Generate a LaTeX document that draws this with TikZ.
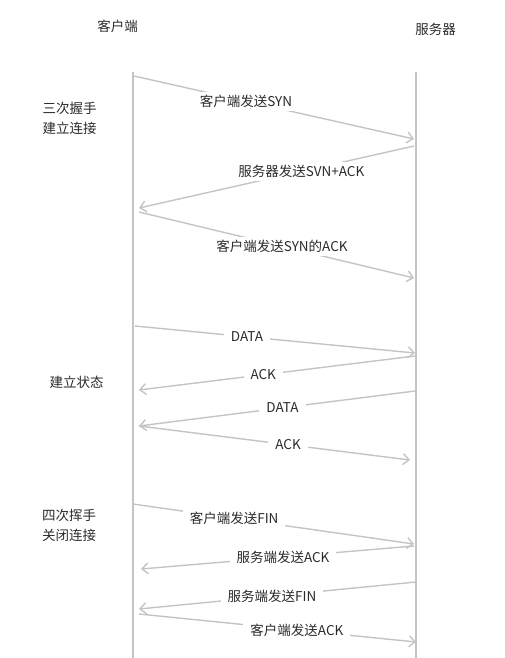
\documentclass[tikz,border=0pt]{standalone}
\usepackage{fontspec}
\setmainfont{Noto Sans CJK SC}
\usetikzlibrary{arrows.meta}
\definecolor{linegray}{HTML}{C4C4C4}
\definecolor{textgray}{HTML}{2B2B2B}
\begin{document}
\begin{tikzpicture}[x=1pt, y=-1pt,
    every node/.style={text=textgray, font=\fontsize{13.5}{20}\selectfont, inner sep=1pt},
    lifeline/.style={draw=linegray, line width=1.6pt},
    msg/.style={draw=linegray, line width=1.4pt, -{Straight Barb[length=6pt, width=11pt]}},
    lbl/.style={fill=white, inner xsep=7pt, inner ysep=3pt}]
        \useasboundingbox (0,0) rectangle (504,658);

        % Uczestnicy
        \node (client) at (117.5,26) {客户端};
        \node (server) at (435.5,29) {服务器};

        % Linie życia
        \coordinate (c0) at (133,72);
        \coordinate (c1) at (133,658);
        \coordinate (s0) at (416,72);
        \coordinate (s1) at (416,658);
        \draw[lifeline] (c0) -- (c1);
        \draw[lifeline] (s0) -- (s1);

        % Etapy
        \node[align=center] (hs3) at (69.5,118) {三次握手\\建立连接};
        \node (est) at (76.5,382) {建立状态};
        \node[align=center] (hs4) at (69,525) {四次挥手\\关闭连接};

        % Punkty wiadomości
        \coordinate (a1) at (134,76);  \coordinate (b1) at (414,139);
        \coordinate (a2) at (414,146); \coordinate (b2) at (139,208);
        \coordinate (a3) at (139,212); \coordinate (b3) at (414,278);
        \coordinate (a4) at (135,326); \coordinate (b4) at (415,353);
        \coordinate (a5) at (415,356); \coordinate (b5) at (139,390);
        \coordinate (a6) at (415,391); \coordinate (b6) at (139,426);
        \coordinate (a7) at (139,426); \coordinate (b7) at (410,460);
        \coordinate (a8) at (133,504); \coordinate (b8) at (414,544);
        \coordinate (a9) at (414,546); \coordinate (b9) at (141,569);
        \coordinate (a10) at (416,582); \coordinate (b10) at (139,609);
        \coordinate (a11) at (139,614); \coordinate (b11) at (416,642);

        % Wiadomości
        \draw[msg] (a1) -- node[lbl, pos=0.40] {客户端发送SYN} (b1);
        \draw[msg] (a2) -- node[lbl, pos=0.41] {服务器发送SVN+ACK} (b2);
        \draw[msg] (a3) -- node[lbl, pos=0.52] {客户端发送SYN的ACK} (b3);
        \draw[msg] (a4) -- node[lbl, pos=0.40] {DATA} (b4);
        \draw[msg] (a5) -- node[lbl, pos=0.55] {ACK} (b5);
        \draw[msg] (a6) -- node[lbl, pos=0.48] {DATA} (b6);
        \draw[msg] (a7) -- node[lbl, pos=0.55] {ACK} (b7);
        \draw[msg] (a8) -- node[lbl, pos=0.36] {客户端发送FIN} (b8);
        \draw[msg] (a9) -- node[lbl, pos=0.48] {服务端发送ACK} (b9);
        \draw[msg] (a10) -- node[lbl, pos=0.52] {服务端发送FIN} (b10);
        \draw[msg] (a11) -- node[lbl, pos=0.57] {客户端发送ACK} (b11);
    \end{tikzpicture}
\end{document}
